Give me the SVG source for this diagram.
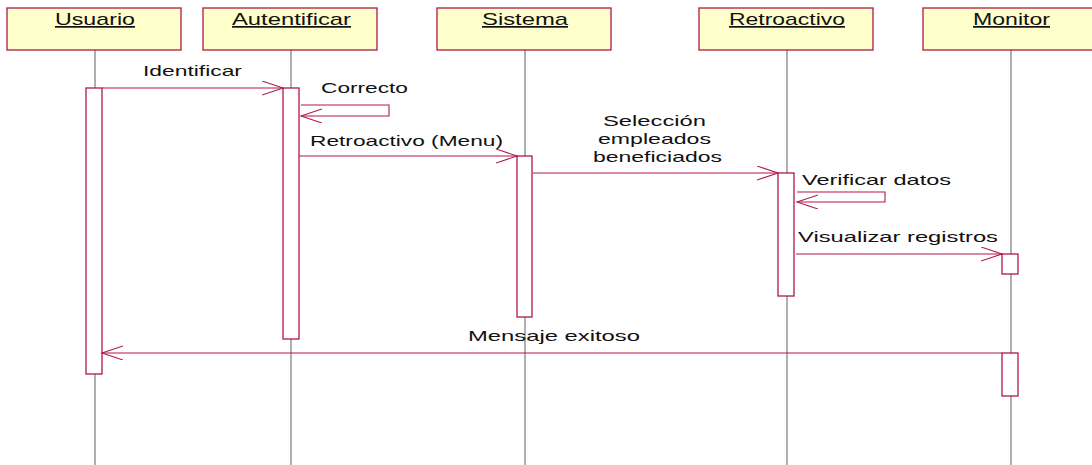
<svg xmlns="http://www.w3.org/2000/svg" width="1092" height="465" viewBox="0 0 1092 465">
<style>
.box{fill:#FFFFCC;stroke:#B0184C;stroke-width:1.3}
.life{stroke:#7A7A7A;stroke-width:1.2;fill:none}
.act{fill:#FFFFFF;stroke:#B0184C;stroke-width:1.3}
.msg{stroke:#B0184C;stroke-width:1.1;fill:none}
.hd{font-family:"Liberation Sans",Arial,sans-serif;font-size:17px;fill:#111;text-decoration:underline}
.lb{font-family:"Liberation Sans",Arial,sans-serif;font-size:15px;fill:#111}
</style>
<defs>
<marker id="open" markerUnits="userSpaceOnUse" markerWidth="24" markerHeight="16" refX="21" refY="7" orient="auto">
<path d="M0,0 L21,7 L0,14" fill="none" stroke="#B0184C" stroke-width="1.1"/>
</marker>
</defs>
<rect width="1092" height="465" fill="#FFFFFF"/>
<g id="lifelines">
<line class="life" x1="95" y1="50" x2="95" y2="465"/>
<line class="life" x1="291" y1="50" x2="291" y2="465"/>
<line class="life" x1="525" y1="50" x2="525" y2="465"/>
<line class="life" x1="787" y1="50" x2="787" y2="465"/>
<line class="life" x1="1011" y1="50" x2="1011" y2="465"/>
</g>
<g id="usuario">
<rect class="box" x="7" y="8" width="174" height="42"/>
<text class="hd" x="55" y="25" textLength="80" lengthAdjust="spacingAndGlyphs">Usuario</text>
<rect class="act" x="86" y="88" width="16" height="286"/>
</g>
<g id="autentificar">
<rect class="box" x="203" y="8" width="174" height="42"/>
<text class="hd" x="232" y="25" textLength="119" lengthAdjust="spacingAndGlyphs">Autentificar</text>
<rect class="act" x="283" y="88" width="16" height="251"/>
</g>
<g id="sistema">
<rect class="box" x="437" y="8" width="174" height="42"/>
<text class="hd" x="482" y="25" textLength="86" lengthAdjust="spacingAndGlyphs">Sistema</text>
<rect class="act" x="517" y="156" width="15" height="161"/>
</g>
<g id="retroactivo">
<rect class="box" x="699" y="8" width="174" height="42"/>
<text class="hd" x="729" y="25" textLength="116" lengthAdjust="spacingAndGlyphs">Retroactivo</text>
<rect class="act" x="778" y="173" width="16" height="123"/>
</g>
<g id="monitor">
<rect class="box" x="923" y="8" width="174" height="42"/>
<text class="hd" x="973" y="25" textLength="77" lengthAdjust="spacingAndGlyphs">Monitor</text>
<rect class="act" x="1002" y="254" width="16" height="20"/>
<rect class="act" x="1002" y="353" width="16" height="43"/>
</g>
<g id="connectors">
<line class="msg" x1="102" y1="88" x2="283" y2="88" marker-end="url(#open)"/>
<polyline class="msg" points="301,105 389,105 389,116 301,116" marker-end="url(#open)"/>
<line class="msg" x1="299" y1="156" x2="517" y2="156" marker-end="url(#open)"/>
<line class="msg" x1="533" y1="173" x2="778" y2="173" marker-end="url(#open)"/>
<polyline class="msg" points="797,192 885,192 885,202 797,202" marker-end="url(#open)"/>
<line class="msg" x1="796" y1="254" x2="1002" y2="254" marker-end="url(#open)"/>
<line class="msg" x1="1002" y1="353" x2="102" y2="353" marker-end="url(#open)"/>
</g>
<g id="labels">
<text class="lb" x="143" y="76" textLength="99" lengthAdjust="spacingAndGlyphs">Identificar</text>
<text class="lb" x="321" y="93" textLength="87" lengthAdjust="spacingAndGlyphs">Correcto</text>
<text class="lb" x="310" y="146" textLength="193" lengthAdjust="spacingAndGlyphs">Retroactivo (Menu)</text>
<text class="lb" x="603" y="126" textLength="103" lengthAdjust="spacingAndGlyphs">Selección</text>
<text class="lb" x="598" y="144" textLength="113" lengthAdjust="spacingAndGlyphs">empleados</text>
<text class="lb" x="593" y="162" textLength="129" lengthAdjust="spacingAndGlyphs">beneficiados</text>
<text class="lb" x="802" y="185" textLength="149" lengthAdjust="spacingAndGlyphs">Verificar datos</text>
<text class="lb" x="798" y="242" textLength="200" lengthAdjust="spacingAndGlyphs">Visualizar registros</text>
<text class="lb" x="468" y="341" textLength="172" lengthAdjust="spacingAndGlyphs">Mensaje exitoso</text>
</g>
</svg>
